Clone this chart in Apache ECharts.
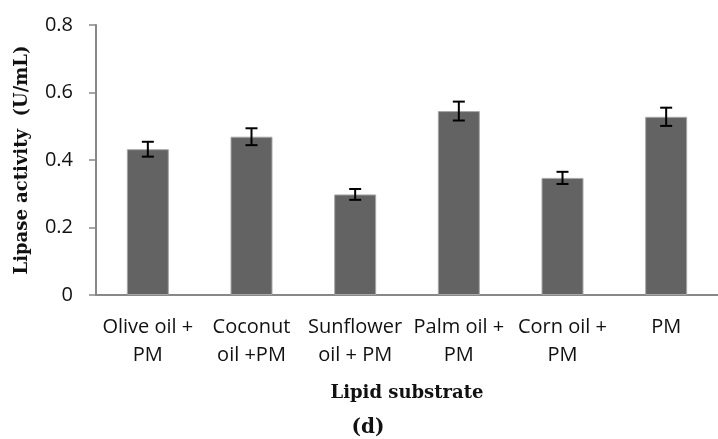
<!DOCTYPE html>
<html>
<head>
<meta charset="utf-8">
<script src="https://cdn.jsdelivr.net/npm/echarts@6/dist/echarts.min.js"></script>
<style>
html,body{margin:0;padding:0;background:#fff;}
#chart{width:718px;height:439px;}
</style>
</head>
<body>
<div id="chart"></div>
<script>
var categories = ['Olive oil +\nPM', 'Coconut\noil +PM', 'Sunflower\noil + PM', 'Palm oil +\nPM', 'Corn oil +\nPM', 'PM'];
var activity = [0.432, 0.469, 0.298, 0.545, 0.347, 0.528];
var errors = [0.022, 0.025, 0.016, 0.028, 0.018, 0.027];
var yTicks = [0, 0.2, 0.4, 0.6, 0.8];

var chart = echarts.init(document.getElementById('chart'));
var errData = activity.map(function (v, i) { return [i, v - errors[i], v + errors[i]]; });

chart.setOption({
  animation: false,
  grid: { left: 96, right: -10, top: 25, bottom: 144 },
  xAxis: {
    type: 'category',
    data: categories,
    axisLine: { lineStyle: { color: '#888', width: 2 } },
    axisTick: { show: false },
    axisLabel: { color: '#111', fontFamily: 'Open Sans', fontSize: 20, lineHeight: 28, margin: 18, interval: 0 },
    name: 'Lipid substrate',
    nameLocation: 'middle',
    nameGap: 89,
    nameTextStyle: { color: '#111', fontFamily: 'DejaVu Serif', fontWeight: 'bold', fontSize: 18 }
  },
  yAxis: {
    type: 'value',
    min: yTicks[0],
    max: yTicks[yTicks.length - 1],
    interval: 0.2,
    axisLine: { show: true, lineStyle: { color: '#888', width: 2 } },
    axisTick: { show: true, length: 7, lineStyle: { color: '#888', width: 1.5 } },
    splitLine: { show: false },
    axisLabel: { color: '#111', fontFamily: 'Open Sans', fontSize: 20, margin: 23,
      formatter: function (v) { return v === 0 ? '0' : v.toFixed(1); } },
    name: 'Lipase activity  (U/mL)',
    nameLocation: 'middle',
    nameGap: 65,
    nameTextStyle: { color: '#111', fontFamily: 'DejaVu Serif', fontWeight: 'bold', fontSize: 18 }
  },
  graphic: [{
    type: 'text', x: 368, y: 428,
    style: { text: '(d)', fill: '#111', font: 'bold 20px "DejaVu Serif"', textAlign: 'center', textVerticalAlign: 'middle' }
  }],
  series: [{
    type: 'bar',
    data: activity,
    barWidth: 42,
    itemStyle: { color: '#636363', borderColor: '#a8a8a8', borderWidth: 1 }
  }, {
    type: 'custom',
    data: errData,
    z: 10,
    renderItem: function (params, api) {
      var x = api.value(0);
      var lo = api.coord([x, api.value(1)]);
      var hi = api.coord([x, api.value(2)]);
      var hw = 6;
      var st = { stroke: '#000', lineWidth: 2, fill: null };
      return { type: 'group', children: [
        { type: 'line', shape: { x1: lo[0], y1: lo[1], x2: hi[0], y2: hi[1] }, style: st },
        { type: 'line', shape: { x1: lo[0] - hw, y1: lo[1], x2: lo[0] + hw, y2: lo[1] }, style: st },
        { type: 'line', shape: { x1: hi[0] - hw, y1: hi[1], x2: hi[0] + hw, y2: hi[1] }, style: st }
      ]};
    }
  }]
});
</script>
</body>
</html>
